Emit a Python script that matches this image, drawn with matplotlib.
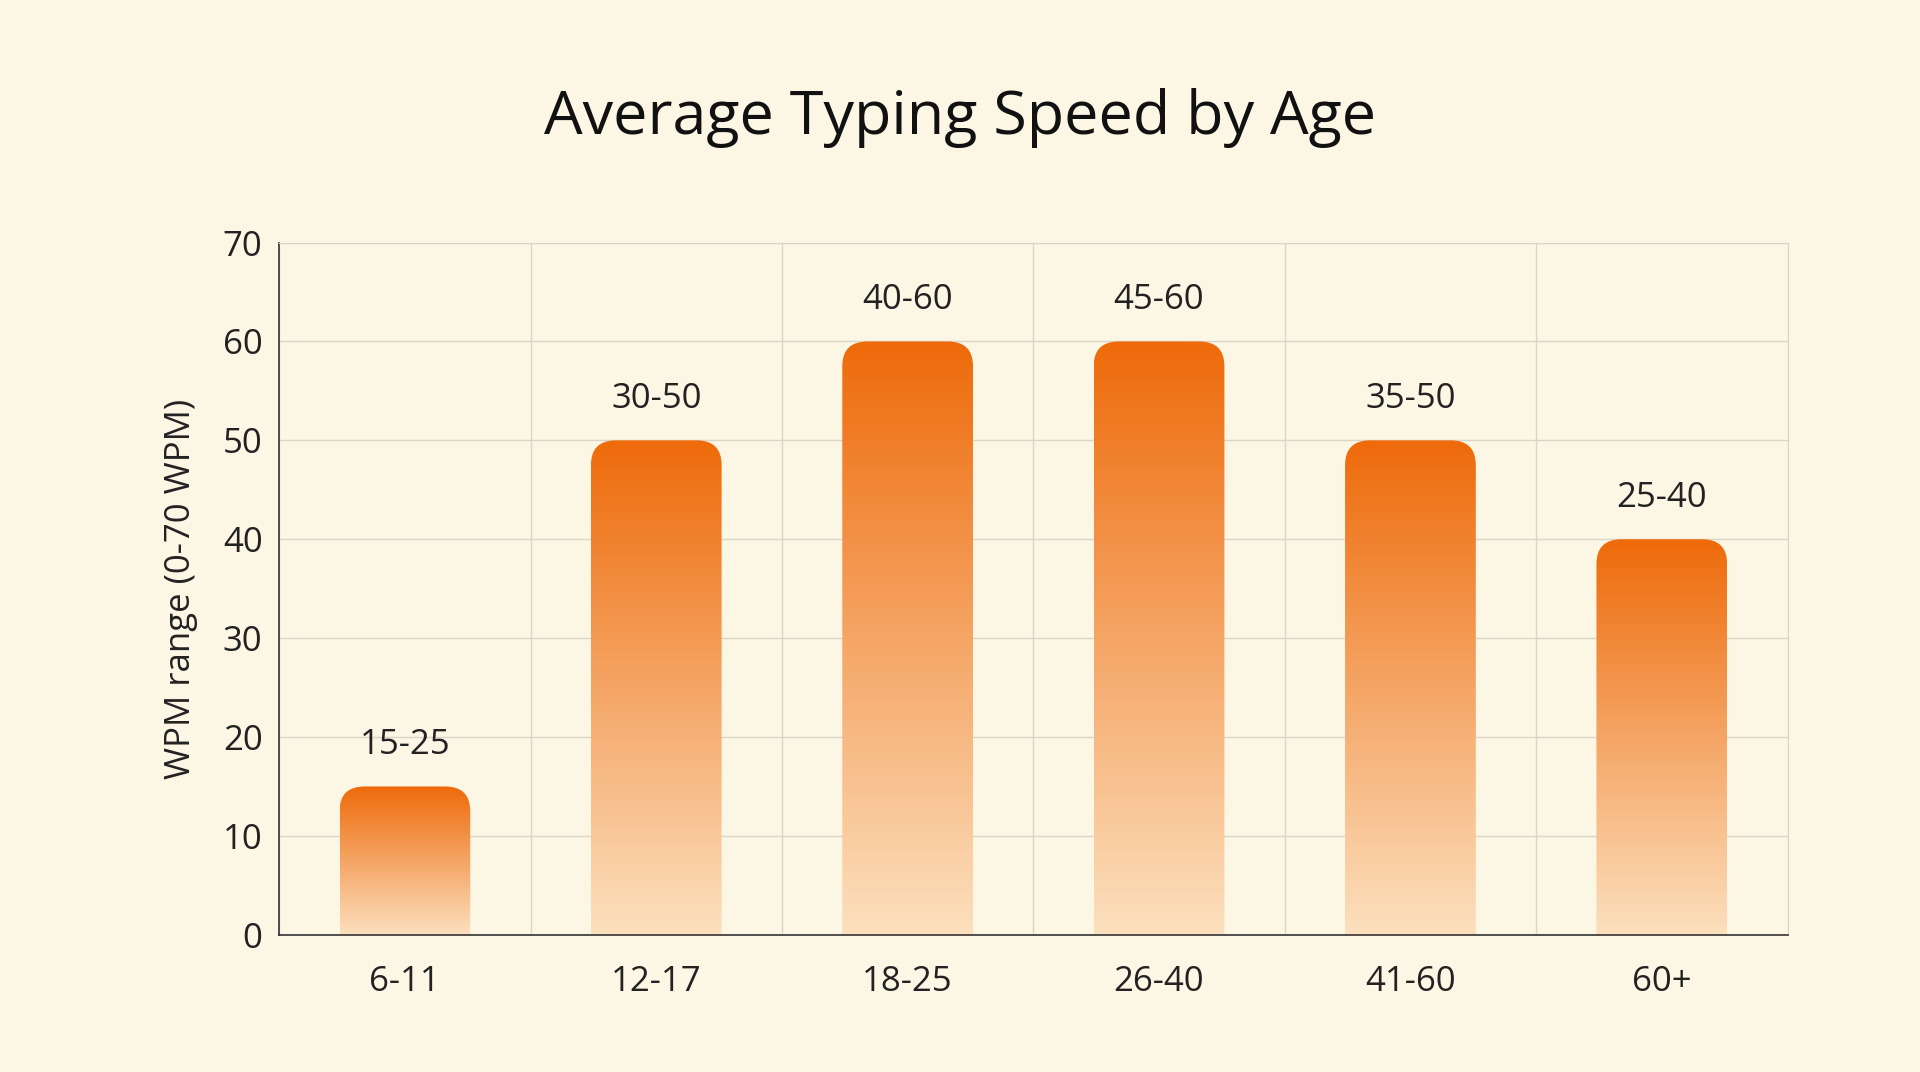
import matplotlib
matplotlib.use("Agg")
import matplotlib.pyplot as plt
import numpy as np
from matplotlib.patches import FancyBboxPatch
from matplotlib.colors import LinearSegmentedColormap

categories = ["6-11", "12-17", "18-25", "26-40", "41-60", "60+"]
values = [15, 50, 60, 60, 50, 40]
labels = ["15-25", "30-50", "40-60", "45-60", "35-50", "25-40"]

bg = "#FCF6E4"
plt.rcParams['font.family'] = ['Open Sans', 'DejaVu Sans']
fig = plt.figure(figsize=(19.2, 10.72), dpi=100, facecolor=bg)
ax = fig.add_axes([0.1454, 0.128, 0.7856, 0.6457], facecolor=bg)
cmap = LinearSegmentedColormap.from_list("g", ["#FCE0BE", "#F5A565", "#EE6A0A"])
grad = np.linspace(0, 1, 256).reshape(-1, 1)
w = 0.52
x = np.arange(len(categories))
ax.set_xlim(-0.5, len(categories) - 0.5)
ax.set_ylim(0, 70)
for xi, v, lab in zip(x, values, labels):
    patch = FancyBboxPatch((xi - w/2, -5), w, v + 5,
                           boxstyle="round,pad=0,rounding_size=0.1",
                           mutation_aspect=25, facecolor="none", edgecolor="none")
    ax.add_patch(patch)
    im = ax.imshow(grad, extent=[xi - w/2, xi + w/2, 0, v], origin="lower",
                   cmap=cmap, aspect="auto", zorder=2)
    im.set_clip_path(patch)
    ax.text(xi, v + 2.5, lab, ha="center", va="bottom", fontsize=25, color="#222222")
ax.set_aspect("auto")
ax.set_xticks(x)
ax.set_xticklabels(categories)
ax.set_yticks(range(0, 71, 10))
ax.set_xticks(np.arange(-0.5, len(categories)), minor=True)
ax.grid(True, which="major", axis="y", color="#D9D5C9", lw=1)
ax.grid(True, which="minor", axis="x", color="#D9D5C9", lw=1)
ax.set_axisbelow(True)
ax.tick_params(axis="both", which="both", length=0, labelsize=25, colors="#222222", pad=12)
ax.tick_params(axis="x", pad=22)
for s in ["top", "right"]:
    ax.spines[s].set_color("#D9D5C9")
for s in ["left", "bottom"]:
    ax.spines[s].set_color("#333333")
    ax.spines[s].set_linewidth(1.2)
ax.set_ylabel("WPM range (0-70 WPM)", fontsize=25, color="#222222", labelpad=18)
fig.text(0.5, 0.89, "Average Typing Speed by Age", ha="center", va="center",
         fontsize=44, color="#111111")
fig.savefig("out.png", dpi=100, facecolor=bg)
